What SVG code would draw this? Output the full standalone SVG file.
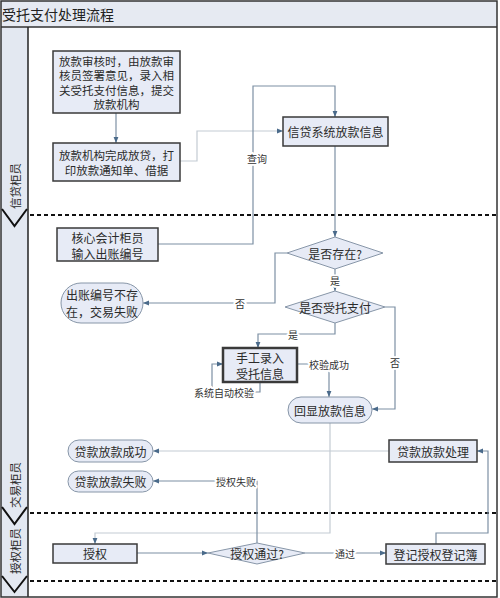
<svg xmlns="http://www.w3.org/2000/svg" width="500" height="598" viewBox="0 0 500 598">
<style>
text{font-family:"Noto Sans CJK SC","Noto Sans",sans-serif;fill:#2b2b2b;text-anchor:middle;dominant-baseline:central}
.t{font-size:12px}
.ts{font-size:11.5px}
.lb{font-size:10px;paint-order:stroke;stroke:#fff;stroke-width:4px;stroke-linejoin:round;fill:#333}
.box{fill:#E7EBF6;stroke:#3a3a3a;stroke-width:1.5}
.soft{fill:#E7EBF6;stroke:#8796A8;stroke-width:1}
.ln{fill:none;stroke:#7D90A4;stroke-width:1.2}
.lt{fill:none;stroke:#C3CBD3;stroke-width:1.2}
.dash{stroke:#111;stroke-width:2;stroke-dasharray:4 3}
.chev{fill:none;stroke:#111;stroke-width:2}
</style>
<defs>
<marker id="ah" viewBox="0 0 10 10" refX="10" refY="5" markerWidth="6" markerHeight="6" markerUnits="userSpaceOnUse" orient="auto"><path d="M0,1 L10,5 L0,9 z" fill="#4A6A8A"/></marker>
</defs>
<rect x="0" y="0" width="500" height="598" fill="#fff"/>
<g id="frame">
<rect x="1" y="1" width="496" height="26" fill="#E6EAF2"/>
<text x="58" y="14" style="font-size:14px;fill:#222">受托支付处理流程</text>
<rect x="1" y="27" width="27" height="570" fill="#E3E8F1"/>
<line x1="1" y1="27" x2="497" y2="27" stroke="#333" stroke-width="1.5"/>
<line x1="28" y1="27" x2="28" y2="597" stroke="#222" stroke-width="1.5"/>
<rect x="1" y="1" width="496" height="596" fill="none" stroke="#333" stroke-width="1.5"/>
<line class="dash" x1="30" y1="215" x2="497" y2="215"/>
<line class="dash" x1="30" y1="513" x2="497" y2="513"/>
<line class="dash" x1="30" y1="581" x2="497" y2="581"/>
<polyline class="chev" points="2,209 14.5,226 27,209"/>
<polyline class="chev" points="2,507 14.5,524 27,507"/>
<polyline class="chev" points="2,576 14.5,592 27,576"/>
<text transform="translate(14.5,186) rotate(-90)" style="font-size:11.5px">信贷柜员</text>
<text transform="translate(14.5,485) rotate(-90)" style="font-size:11.5px">交易柜员</text>
<text transform="translate(14.5,551) rotate(-90)" style="font-size:11.5px">授权柜员</text>
</g>
<g id="connectors">
<path class="ln" d="M116,113 V143" marker-end="url(#ah)"/>
<path class="lt" d="M180,161 H197 V131 H283" marker-end="url(#ah)"/>
<path class="ln" d="M158,244 H253 V86 H335 V117" marker-end="url(#ah)"/>
<path class="ln" d="M335,146 V237" marker-end="url(#ah)"/>
<path class="ln" d="M287,253 H275 V303 H143" marker-end="url(#ah)"/>
<path class="ln" d="M335,269 V291" marker-end="url(#ah)"/>
<path class="ln" d="M335,323 V334 H258 V348" marker-end="url(#ah)"/>
<path class="ln" d="M385,307 H395 V409 H372" marker-end="url(#ah)"/>
<path class="ln" d="M297,364 H329 V397" marker-end="url(#ah)"/>
<path class="ln" d="M260,382 V392 H212 V364 H223" marker-end="url(#ah)"/>
<path class="lt" d="M330,423 V533 H95 V544" marker-end="url(#ah)"/>
<path class="lt" d="M389,451 H153" marker-end="url(#ah)"/>
<path class="ln" d="M257,543 V481 H153" marker-end="url(#ah)"/>
<path class="ln" d="M137,553 H208" marker-end="url(#ah)"/>
<path class="ln" d="M305,553 H386" marker-end="url(#ah)"/>
<path class="ln" d="M436,544 V533 H488 V451 H477" marker-end="url(#ah)"/>
<text class="lb" x="257" y="158">查询</text>
<text class="lb" x="240" y="303">否</text>
<text class="lb" x="335" y="280">是</text>
<text class="lb" x="293" y="334">是</text>
<text class="lb" x="395" y="362">否</text>
<text class="lb" x="329" y="364">校验成功</text>
<text class="lb" x="224" y="392">系统自动校验</text>
<text class="lb" x="236" y="481">授权失败</text>
<text class="lb" x="345" y="553">通过</text>
</g>
<g id="nA">
<rect class="box" x="53" y="51" width="127" height="62"/>
<text class="ts" x="116.5" y="60.5">放款审核时，由放款审</text>
<text class="ts" x="116.5" y="75">核员签署意见，录入相</text>
<text class="ts" x="116.5" y="89.5">关受托支付信息，提交</text>
<text class="ts" x="116.5" y="104">放款机构</text>
</g>
<g id="nB">
<rect class="box" x="53" y="143" width="127" height="38"/>
<text class="ts" x="116.5" y="154.5">放款机构完成放贷，打</text>
<text class="ts" x="116.5" y="169.5">印放款通知单、借据</text>
</g>
<g id="nC">
<rect class="box" x="283" y="117" width="105" height="29"/>
<text class="t" x="335.5" y="131.5">信贷系统放款信息</text>
</g>
<g id="nD">
<rect class="box" x="57" y="228" width="101" height="33"/>
<text class="t" x="107.5" y="237">核心会计柜员</text>
<text class="t" x="107.5" y="253">输入出账编号</text>
</g>
<g id="nD1">
<polygon class="soft" points="335,237 383,253 335,269 287,253"/>
<text class="t" x="335" y="253">是否存在?</text>
</g>
<g id="nE">
<rect class="soft" x="61" y="283" width="82" height="40" rx="20"/>
<text class="t" x="102" y="294">出账编号不存</text>
<text class="t" x="102" y="311">在，交易失败</text>
</g>
<g id="nD2">
<polygon class="soft" points="335,291 385,307 335,323 285,307"/>
<text class="t" x="335" y="307">是否受托支付</text>
</g>
<g id="nF">
<rect class="box" x="223" y="348" width="74" height="34" style="stroke-width:2.5"/>
<text class="t" x="260" y="357">手工录入</text>
<text class="t" x="260" y="373">受托信息</text>
</g>
<g id="nG">
<rect class="soft" x="288" y="397" width="84" height="26" rx="13"/>
<text class="t" x="330" y="410">回显放款信息</text>
</g>
<g id="nH">
<rect class="box" x="389" y="440" width="88" height="22"/>
<text class="t" x="433" y="451">贷款放款处理</text>
</g>
<g id="nI">
<rect class="soft" x="68" y="440" width="85" height="22" rx="11"/>
<text class="t" x="110.5" y="451">贷款放款成功</text>
</g>
<g id="nJ">
<rect class="soft" x="68" y="471" width="85" height="21" rx="10.5"/>
<text class="t" x="110.5" y="481.5">贷款放款失败</text>
</g>
<g id="nL">
<rect class="box" x="53" y="544" width="84" height="19"/>
<text class="t" x="95" y="553.5">授权</text>
</g>
<g id="nK">
<polygon class="soft" points="257,543 305,553 257,564 208,553"/>
<text class="t" x="257" y="553.5">授权通过?</text>
</g>
<g id="nM">
<rect class="box" x="386" y="544" width="99" height="20"/>
<text class="t" x="435.5" y="554">登记授权登记簿</text>
</g>
</svg>
